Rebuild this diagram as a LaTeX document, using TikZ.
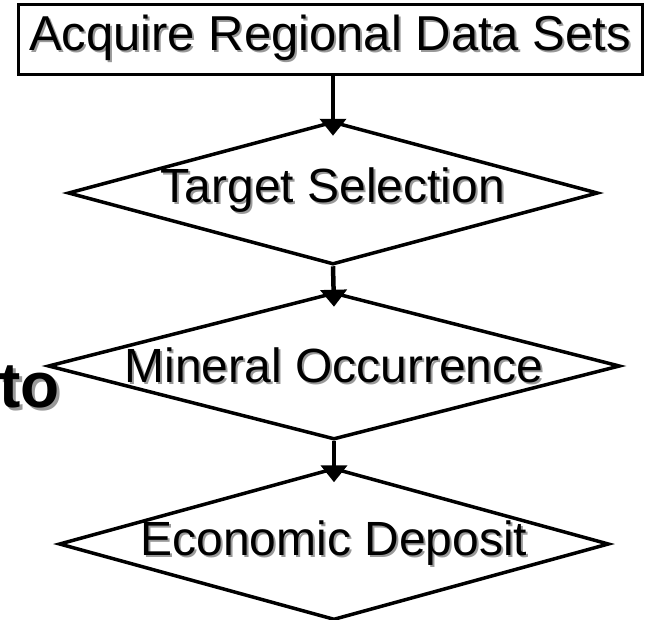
\documentclass[tikz,border=0pt]{standalone}
\usepackage{fontspec}
\setmainfont{Liberation Sans}
\usetikzlibrary{shapes.geometric,arrows.meta}
\definecolor{shadowgray}{gray}{0.6}
% text with a soft grey drop shadow behind it
\newcommand\shadowed[2][2pt]{\makebox[0pt][l]{\hspace{#1}\raisebox{-#1}{\color{shadowgray}#2}}#2}
\tikzset{
  flowline/.style={line width=4.5pt},
  dia/.style={shape=diamond, draw, line width=3.5pt, inner sep=0pt, aspect=1},
  stepbox/.style={draw, line width=3pt, minimum width=624pt, minimum height=70pt, inner sep=0pt,
                  font=\fontsize{49}{52}\selectfont},
  txt/.style={inner sep=0pt, font=\fontsize{48}{52}\selectfont},
  arr/.style={flowline, -{Triangle[length=17pt,width=26pt]}},
}
\begin{document}
\begin{tikzpicture}[x=1pt,y=1pt]
\useasboundingbox (0,0) rectangle (645,-619);
% top box
\node[stepbox] (acq) at (330,-39) {\shadowed{Acquire Regional Data Sets}};
% decision diamonds
\node[dia, minimum width=530pt, minimum height=143pt] (ts) at (333,-193) {};
\node[dia, minimum width=572pt, minimum height=147pt] (mo) at (334,-366) {};
\node[dia, minimum width=550pt, minimum height=152pt] (ed) at (334,-544) {};
% diamond texts
\node[txt] (tst) at (333,-191) {\shadowed{Target Selection}};
\node[txt] (mot) at (334,-366) {\shadowed{Mineral Occurrence}};
\node[txt] (edt) at (334,-544) {\shadowed{Economic Deposit}};
% side word
\node[inner sep=0pt, anchor=base west, font=\bfseries\fontsize{64}{66}\selectfont] (tow) at (-1,-407) {\shadowed[3pt]{to}};
% connectors
\coordinate (tsin) at ([yshift=-16pt]ts.north);
\coordinate (moin) at ([yshift=-16pt]mo.north);
\coordinate (edin) at ([yshift=-16pt]ed.north);
\draw[arr] (acq.south -| ts.north) -- (tsin);
\draw[arr] (ts.south) -- (moin);
\draw[arr] (mo.south) -- (edin);
\end{tikzpicture}
\end{document}
